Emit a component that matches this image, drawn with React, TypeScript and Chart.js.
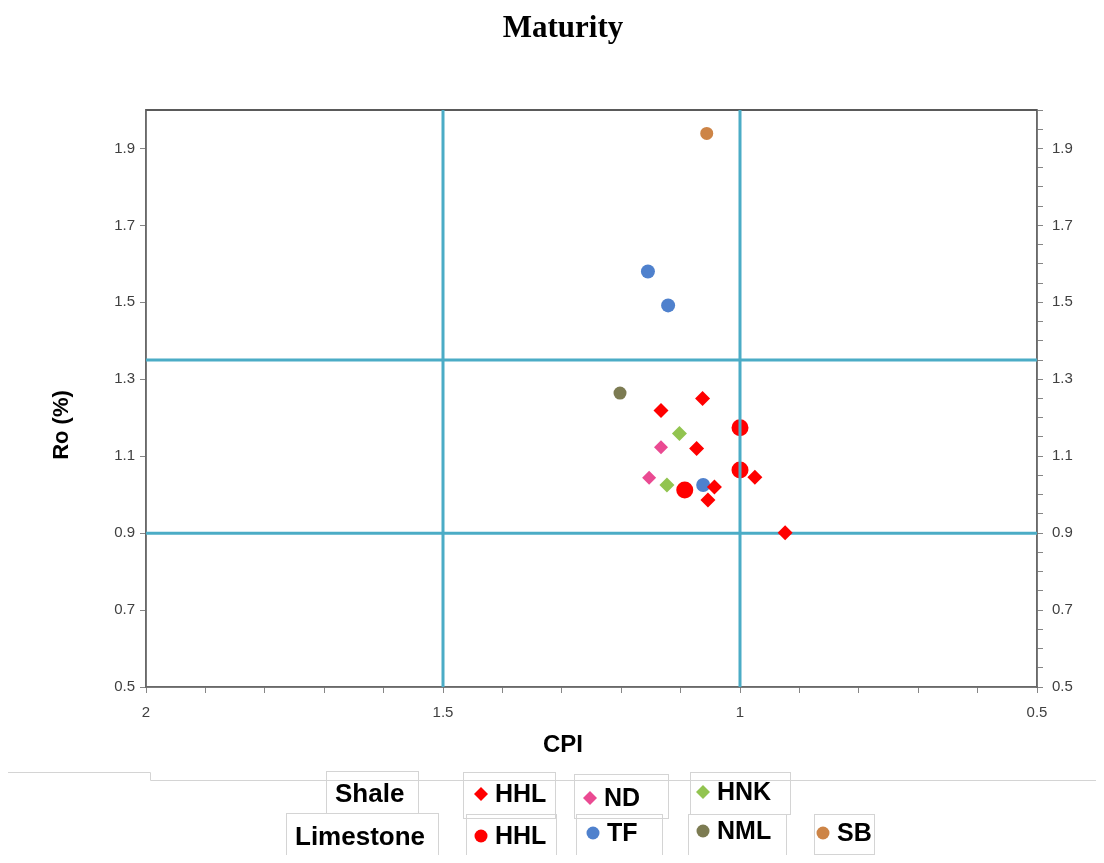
import React, { useEffect, useRef } from "react";
import { Chart, registerables } from "chart.js";

Chart.register(...registerables);

// ---- data (CPI on x, Ro % on y) ----
const shaleHHL_CPI = [1.063, 1.133, 1.073, 1.043, 1.054, 0.975, 0.924];
const shaleHHL_Ro = [1.25, 1.219, 1.12, 1.02, 0.986, 1.045, 0.901];
const shaleND_CPI = [1.133, 1.153];
const shaleND_Ro = [1.123, 1.044];
const shaleHNK_CPI = [1.102, 1.123];
const shaleHNK_Ro = [1.159, 1.025];
const limeHHL_CPI = [1.0, 1.0, 1.093];
const limeHHL_Ro = [1.174, 1.064, 1.012];
const limeTF_CPI = [1.155, 1.121, 1.062];
const limeTF_Ro = [1.58, 1.492, 1.025];
const limeNML_CPI = [1.202];
const limeNML_Ro = [1.264];
const limeSB_CPI = [1.056];
const limeSB_Ro = [1.939];

// reference (cut-off) lines
const cpiRefLines = [1.5, 1.0];
const roRefLines = [1.35, 0.9];

// axes
const xMin = 0.5;
const xMax = 2.0;
const yMin = 0.5;
const yMax = 2.0;
const xTickValues = [2.0, 1.9, 1.8, 1.7, 1.6, 1.5, 1.4, 1.3, 1.2, 1.1, 1.0, 0.9, 0.8, 0.7, 0.6, 0.5];
const xLabelValues = [2, 1.5, 1, 0.5];
const xTickLabels = ["2", "1.5", "1", "0.5"];
const yTickValues = [0.5, 0.7, 0.9, 1.1, 1.3, 1.5, 1.7, 1.9];
const yTickLabels = ["0.5", "0.7", "0.9", "1.1", "1.3", "1.5", "1.7", "1.9"];
const yRightMinorTicks = [
  0.5, 0.55, 0.6, 0.65, 0.7, 0.75, 0.8, 0.85, 0.9, 0.95, 1.0, 1.05, 1.1, 1.15, 1.2, 1.25,
  1.3, 1.35, 1.4, 1.45, 1.5, 1.55, 1.6, 1.65, 1.7, 1.75, 1.8, 1.85, 1.9, 1.95, 2.0,
];

const chartTitle = "Maturity";
const xTitle = "CPI";
const yTitle = "Ro (%)";
const legendGroups = ["Shale", "Limestone"];

const RED = "#ff0000";
const PINK = "#ea4a92";
const GREEN = "#92c450";
const BLUE = "#4f81cd";
const OLIVE = "#7c7b52";
const ORANGE = "#cd8446";
const CYAN = "#4bacc6";

const zip = (xs: number[], ys: number[]) => xs.map((x, i) => ({ x, y: ys[i] }));

const labelFor = (value: number, values: number[], labels: string[]) => {
  const i = values.findIndex((v) => Math.abs(v - value) < 1e-6);
  return i >= 0 ? labels[i] : "";
};

const textFont = "'Liberation Sans Narrow', 'Liberation Sans', Arial, sans-serif";
const tickFont = "'Liberation Sans', Arial, sans-serif";

const overlayPlugin = {
  id: "overlay",
  beforeDatasetsDraw(chart: any) {
    const { ctx, chartArea: a } = chart;
    ctx.save();
    ctx.strokeStyle = "#6a6a6a";
    ctx.lineWidth = 1.5;
    ctx.strokeRect(a.left, a.top, a.right - a.left, a.bottom - a.top);
    ctx.strokeStyle = "#5a5a5a";
    ctx.lineWidth = 2;
    ctx.beginPath();
    ctx.moveTo(a.left, a.top);
    ctx.lineTo(a.right, a.top);
    ctx.stroke();
    ctx.restore();
  },
  afterDraw(chart: any) {
    const { ctx } = chart;
    ctx.save();
    // chart title
    ctx.fillStyle = "#000";
    ctx.font = "bold 31px 'Liberation Serif', 'Times New Roman', serif";
    ctx.textAlign = "center";
    ctx.textBaseline = "middle";
    ctx.fillText(chartTitle, 555, 21);

    // axis titles
    ctx.font = `bold 24px ${textFont}`;
    ctx.fillText(xTitle, 555, 737);
    ctx.save();
    ctx.translate(54, 417);
    ctx.rotate(-Math.PI / 2);
    ctx.font = `bold 22px ${textFont}`;
    ctx.fillText(yTitle, 0, 0);
    ctx.restore();

    // legend frame lines (light)
    ctx.strokeStyle = "#d4d4d4";
    ctx.lineWidth = 1;
    ctx.beginPath();
    ctx.moveTo(0, 764.5);
    ctx.lineTo(142.5, 764.5);
    ctx.lineTo(142.5, 772.5);
    ctx.lineTo(1088, 772.5);
    ctx.stroke();
    const boxes = [
      [318, 763, 92, 42],
      [455, 764, 92, 46],
      [566, 766, 94, 44],
      [682, 764, 100, 42],
      [278, 805, 152, 42],
      [458, 806, 90, 42],
      [568, 806, 86, 42],
      [680, 806, 98, 42],
      [806, 806, 60, 40],
      [168, 850, 152, 10],
      [342, 850, 86, 10],
      [452, 850, 78, 10],
      [558, 850, 96, 10],
      [690, 850, 58, 10],
    ];
    boxes.forEach(([x, y, w, h]) => ctx.strokeRect(x + 0.5, y + 0.5, w, h));

    // legend content
    const ds = chart.data.datasets;
    const drawMarker = (style: string, color: string, cx: number, cy: number, r: number) => {
      ctx.fillStyle = color;
      ctx.beginPath();
      if (style === "rectRot") {
        ctx.moveTo(cx, cy - r);
        ctx.lineTo(cx + r, cy);
        ctx.lineTo(cx, cy + r);
        ctx.lineTo(cx - r, cy);
        ctx.closePath();
      } else {
        ctx.arc(cx, cy, r, 0, Math.PI * 2);
      }
      ctx.fill();
    };
    ctx.textAlign = "left";
    ctx.textBaseline = "middle";
    ctx.fillStyle = "#000";
    ctx.font = `bold 26px ${textFont}`;
    ctx.fillText(legendGroups[0], 327, 787);
    ctx.fillText(legendGroups[1], 287, 830);
    const items = [
      { d: 0, x: 473, y: 786 },
      { d: 1, x: 582, y: 790 },
      { d: 2, x: 695, y: 784 },
      { d: 3, x: 473, y: 828 },
      { d: 4, x: 585, y: 825 },
      { d: 5, x: 695, y: 823 },
      { d: 6, x: 815, y: 825 },
    ];
    items.forEach((it) => {
      const d = ds[it.d];
      drawMarker(d.pointStyle, d.backgroundColor, it.x, it.y, d.pointStyle === "rectRot" ? 7 : 6.5);
      ctx.fillStyle = "#000";
      ctx.font = `bold 25px ${textFont}`;
      ctx.fillText(d.label, it.x + 14, it.y + 1);
    });
    ctx.restore();
  },
};

export default function App() {
  const ref = useRef<HTMLCanvasElement | null>(null);

  useEffect(() => {
    if (!ref.current) return;
    const refLineStyle = {
      type: "line" as const,
      showLine: true,
      borderColor: CYAN,
      backgroundColor: CYAN,
      borderWidth: 3,
      pointRadius: 0,
      fill: false,
    };
    const tickOpts = (values: number[], labels: string[], padding: number) => ({
      autoSkip: false,
      maxRotation: 0,
      padding,
      color: "#404040",
      font: { family: tickFont, size: 15 },
      callback: (v: any) => labelFor(Number(v), values, labels),
    });
    const gridOpts = { drawOnChartArea: false, tickLength: 6, color: "#868686", lineWidth: 1 };
    const borderOpts = { display: true, color: "#6a6a6a", width: 1.5 };

    const chart = new Chart(ref.current, {
      type: "scatter",
      data: {
        datasets: [
          { label: "HHL", data: zip(shaleHHL_CPI, shaleHHL_Ro), pointStyle: "rectRot", backgroundColor: RED, borderColor: RED, pointRadius: 7.5, borderWidth: 0, order: 2 },
          { label: "ND", data: zip(shaleND_CPI, shaleND_Ro), pointStyle: "rectRot", backgroundColor: PINK, borderColor: PINK, pointRadius: 7, borderWidth: 0, order: 2 },
          { label: "HNK", data: zip(shaleHNK_CPI, shaleHNK_Ro), pointStyle: "rectRot", backgroundColor: GREEN, borderColor: GREEN, pointRadius: 7.5, borderWidth: 0, order: 2 },
          { label: "HHL", data: zip(limeHHL_CPI, limeHHL_Ro), pointStyle: "circle", backgroundColor: RED, borderColor: RED, pointRadius: 8.5, borderWidth: 0, order: 2 },
          { label: "TF", data: zip(limeTF_CPI, limeTF_Ro), pointStyle: "circle", backgroundColor: BLUE, borderColor: BLUE, pointRadius: 7, borderWidth: 0, order: 2 },
          { label: "NML", data: zip(limeNML_CPI, limeNML_Ro), pointStyle: "circle", backgroundColor: OLIVE, borderColor: OLIVE, pointRadius: 6.5, borderWidth: 0, order: 2 },
          { label: "SB", data: zip(limeSB_CPI, limeSB_Ro), pointStyle: "circle", backgroundColor: ORANGE, borderColor: ORANGE, pointRadius: 6.5, borderWidth: 0, order: 2 },
          ...cpiRefLines.map((c) => ({
            ...refLineStyle,
            label: "cpi-ref",
            data: [{ x: c, y: yMin }, { x: c, y: yMax }],
            order: 1,
          })),
          ...roRefLines.map((r) => ({
            ...refLineStyle,
            label: "ro-ref",
            data: [{ x: xMax, y: r }, { x: xMin, y: r }],
            order: 3,
          })),
        ] as any,
      },
      options: {
        responsive: false,
        animation: false,
        devicePixelRatio: 1,
        layout: { padding: { top: 102, left: 0, right: 0, bottom: 93 } },
        plugins: {
          legend: { display: false },
          title: { display: false },
          tooltip: { enabled: false },
        },
        scales: {
          x: {
            type: "linear",
            position: "bottom",
            reverse: true,
            min: xMin,
            max: xMax,
            afterFit: (s: any) => {
              s.height = 75;
            },
            afterBuildTicks: (s: any) => {
              s.ticks = xTickValues.map((v) => ({ value: v }));
            },
            ticks: tickOpts(xLabelValues, xTickLabels, 11),
            grid: gridOpts,
            border: borderOpts,
          },
          y: {
            type: "linear",
            position: "left",
            min: yMin,
            max: yMax,
            afterFit: (s: any) => {
              s.width = 138;
            },
            afterBuildTicks: (s: any) => {
              s.ticks = yTickValues.map((v) => ({ value: v }));
            },
            ticks: tickOpts(yTickValues, yTickLabels, 5),
            grid: gridOpts,
            border: borderOpts,
          },
          y2: {
            type: "linear",
            position: "right",
            min: yMin,
            max: yMax,
            afterFit: (s: any) => {
              s.width = 59;
            },
            afterBuildTicks: (s: any) => {
              s.ticks = yRightMinorTicks.map((v) => ({ value: v }));
            },
            ticks: tickOpts(yTickValues, yTickLabels, 9),
            grid: gridOpts,
            border: borderOpts,
          },
        },
      } as any,
      plugins: [overlayPlugin],
    });
    return () => chart.destroy();
  }, []);

  return (
    <div style={{ width: 1088, height: 847 }}>
      <canvas ref={ref} width={1088} height={847} style={{ display: "block" }} />
    </div>
  );
}
